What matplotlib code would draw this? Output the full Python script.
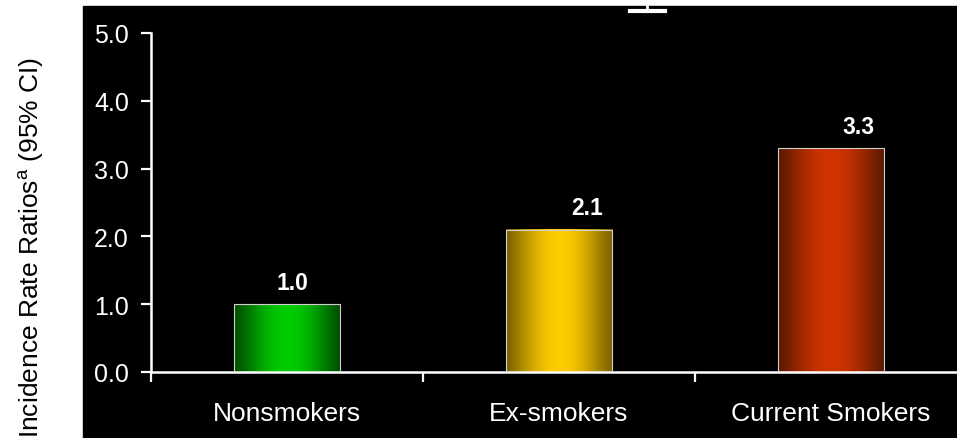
import numpy as np
import matplotlib.pyplot as plt
from matplotlib.patches import Rectangle
from matplotlib.lines import Line2D

plt.rcParams['font.family'] = ['Liberation Sans', 'DejaVu Sans']

categories = ['Nonsmokers', 'Ex-smokers', 'Current Smokers']
ratios = [1.0, 2.1, 3.3]
value_labels = ['1.0', '2.1', '3.3']
# centre / edge colours of the shaded bars
bright = [(0.0, 0.80, 0.0), (1.0, 0.80, 0.0), (0.82, 0.20, 0.0)]
dark = [(0.0, 0.30, 0.0), (0.48, 0.38, 0.0), (0.36, 0.10, 0.0)]
label_shift = [0.02, 0.105, 0.10]

W, H = 957, 439
fig = plt.figure(figsize=(W / 100, H / 100), dpi=100)
fig.patch.set_facecolor('white')

# black slide background
fig.add_artist(Rectangle((83 / W, 0), 1 - 83 / W, 1 - 7 / H,
                         transform=fig.transFigure, color='black', zorder=0))
# stray cap at the top edge
fig.add_artist(Line2D([630 / W, 665 / W], [1 - 12 / H, 1 - 12 / H],
                      transform=fig.transFigure, color='white', lw=3))
fig.add_artist(Line2D([647 / W, 647 / W], [1 - 7 / H, 1 - 12 / H],
                      transform=fig.transFigure, color='white', lw=2))

ax = fig.add_axes([151 / W, (H - 373) / H, 816 / W, 339 / H])
ax.set_facecolor('none')

x = np.arange(len(categories))
bars = ax.bar(x, ratios, width=0.39, facecolor='none', edgecolor='#d0d0d0',
              linewidth=0.8, zorder=3)

t = np.linspace(0, 1, 200)
prof = np.sin(np.pi * t) ** 1.2
for b, c1, c0 in zip(bars, bright, dark):
    c1 = np.array(c1)
    c0 = np.array(c0)
    img = c0[None, :] + (c1 - c0)[None, :] * prof[:, None]
    img = img[None, :, :]
    ax.imshow(img, extent=[b.get_x(), b.get_x() + b.get_width(), 0, b.get_height()],
              aspect='auto', interpolation='bilinear', zorder=2)

for xi, v, s, dx in zip(x, ratios, value_labels, label_shift):
    ax.annotate(s, (xi + dx, v), xytext=(0, 11), textcoords='offset points',
                ha='center', va='baseline', color='white', fontsize=16.5,
                fontweight='bold')

ax.set_xlim(-0.5, 2.5)
ax.set_ylim(0, 5)
ax.set_yticks([0, 1, 2, 3, 4, 5])
ax.set_yticklabels(['0.0', '1.0', '2.0', '3.0', '4.0', '5.0'])
ax.set_xticks([-0.5, 0.5, 1.5])
ax.set_xticklabels([])
ax.set_xticks(x, minor=True)
ax.set_xticklabels(categories, minor=True)

for sp in ['top', 'right']:
    ax.spines[sp].set_visible(False)
for sp in ['left', 'bottom']:
    ax.spines[sp].set_color('white')
    ax.spines[sp].set_linewidth(1.8)

ax.tick_params(axis='y', colors='white', labelsize=18, length=7, width=1.6, pad=9)
ax.tick_params(axis='x', which='major', colors='white', length=7, width=1.6)
ax.tick_params(axis='x', which='minor', colors='white', labelsize=19, length=0, pad=21)

fig.text(31 / W, 1 - 247 / H, 'Incidence Rate Ratios$^\\mathregular{a}$ (95% CI)',
         rotation=90, ha='center', va='center', fontsize=19, color='black')

fig.savefig('out.png', dpi=100)
